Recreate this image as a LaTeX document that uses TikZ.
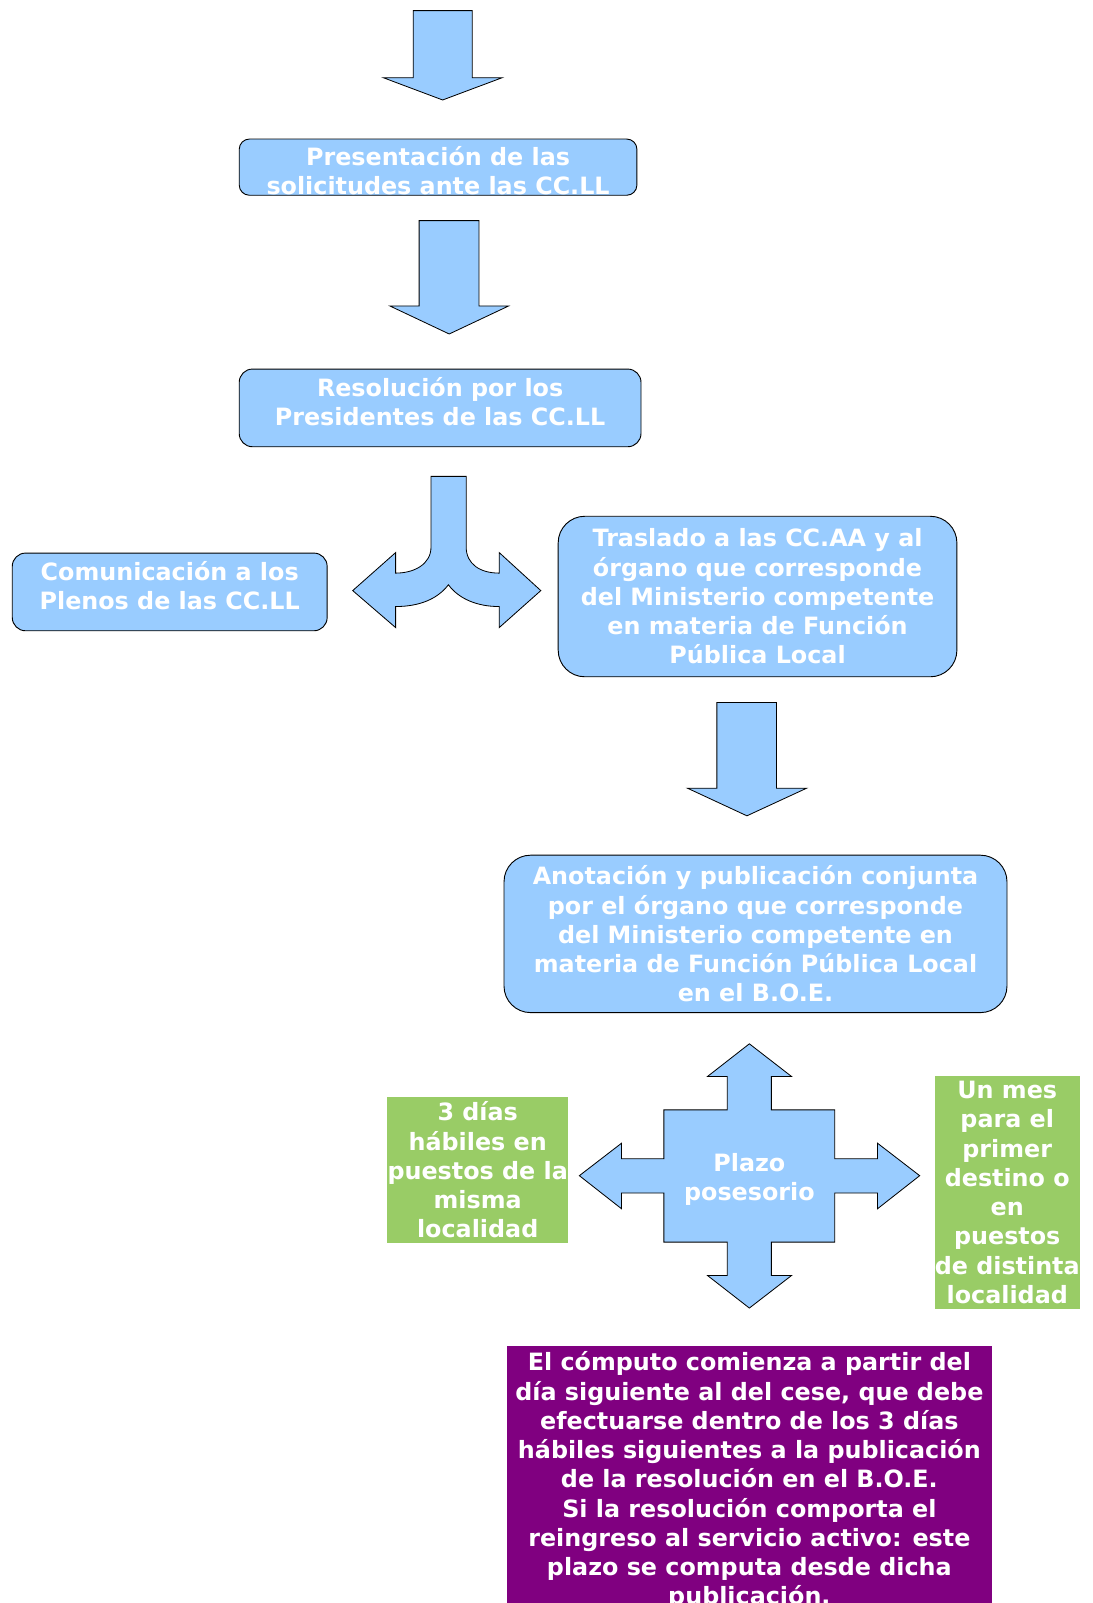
\documentclass[tikz,border=0pt]{standalone}
\usepackage{fontspec}
\setmainfont{DejaVu Sans}
\definecolor{boxblue}{HTML}{99CCFF}
\definecolor{boxgreen}{HTML}{99CC66}
\definecolor{boxpurple}{HTML}{800080}
\newcommand\boxfont{\fontsize{23.3}{28.6}\selectfont\bfseries}
\begin{document}
\begin{tikzpicture}[x=1pt,y=-1pt,
  bluebox/.style={draw=black, line width=0.9pt, fill=boxblue, text=white,
    font=\boxfont, align=center, inner sep=0pt},
  flatbox/.style={fill=#1, text=white, font=\boxfont, align=center, inner sep=0pt},
  arrowshape/.style={draw=black, line width=0.8pt, fill=boxblue, line join=miter},
  plaintext/.style={text=white, font=\boxfont, align=center, inner sep=0pt}]
\useasboundingbox (0,0) rectangle (1069,1568);

% top arrow
\draw[arrowshape] (404.2,10.4) -- (461.9,10.4) -- (461.9,76) -- (491.2,76) -- (433,97.8)
  -- (374.9,76) -- (404.2,76) -- cycle;

\node[bluebox, rounded corners=10pt, minimum width=389pt, minimum height=55pt]
  (pres) at (428.5,163.5) {};
\node[plaintext] (prestext) at (428.5,167) {Presentación de las\\solicitudes ante las CC.LL};

\draw[arrowshape] (410,215.8) -- (468.5,215.8) -- (468.5,299.3) -- (497.5,299.3) -- (439.4,326.7)
  -- (381.4,299.3) -- (410,299.3) -- cycle;

\node[bluebox, rounded corners=13pt, minimum width=393pt, minimum height=76pt]
  (resol) at (430.5,399) {};
\node[plaintext] (resoltext) at (430.5,393) {Resolución por los\\Presidentes de las CC.LL};

% split arrow
\draw[arrowshape] (421.6,466) -- (421.6,535)
  .. controls (421.6,552) and (405,560.6) .. (387,560.6)
  -- (387,540.5) -- (345,577.7) -- (387,613.9) -- (387,593.3)
  .. controls (410,593.3) and (428,586) .. (438.6,572)
  .. controls (449,586) and (467,593.3) .. (488.3,593.3)
  -- (488.3,613.9) -- (529,577.7) -- (488.3,540.5) -- (488.3,560.6)
  .. controls (470,560.6) and (456,552) .. (456,535)
  -- (456,466) -- cycle;

\node[bluebox, rounded corners=13pt, minimum width=308pt, minimum height=76pt]
  (com) at (166,579) {};
\node[plaintext] (comtext) at (166,572.5) {Comunicación a los\\Plenos de las CC.LL};

\node[bluebox, rounded corners=26pt, minimum width=390pt, minimum height=157pt]
  (tras) at (741,583.5) {Traslado a las CC.AA y al\\órgano que corresponde\\del Ministerio competente\\en materia de Función\\Pública Local};

\draw[arrowshape] (701.2,687.2) -- (759.6,687.2) -- (759.6,771) -- (789,771) -- (730.6,798)
  -- (672.5,771) -- (701.2,771) -- cycle;

\node[bluebox, rounded corners=26pt, minimum width=492pt, minimum height=154pt]
  (anot) at (739,913.5) {Anotación y publicación conjunta\\por el órgano que corresponde\\del Ministerio competente en\\materia de Función Pública Local\\en el B.O.E.};

% cross arrow
\draw[arrowshape] (733,1021) -- (774.3,1053) -- (754.5,1053) -- (754.5,1085.6)
  -- (816.5,1085.6) -- (816.5,1133.5) -- (858.3,1133.5) -- (858.3,1118.2)
  -- (899.6,1150) -- (858.3,1182.4) -- (858.3,1167) -- (816.5,1167)
  -- (816.5,1215) -- (754.5,1215) -- (754.5,1247.6) -- (774.3,1247.6)
  -- (733,1279.5) -- (692,1247.6) -- (711.4,1247.6) -- (711.4,1215)
  -- (649.4,1215) -- (649.4,1167) -- (608,1167) -- (608,1182.4)
  -- (566.7,1150) -- (608,1118.2) -- (608,1133.5) -- (649.4,1133.5)
  -- (649.4,1085.6) -- (711.4,1085.6) -- (711.4,1053) -- (692,1053) -- cycle;
\node[plaintext] (plazo) at (733,1154) {Plazo\\posesorio};

\node[flatbox=boxgreen, minimum width=177.5pt, minimum height=142pt]
  (tres) at (467.25,1144.5) {3 días\\hábiles en\\puestos de la\\misma\\localidad};

\node[flatbox=boxgreen, minimum width=141.5pt, minimum height=228.3pt]
  (mes) at (985.25,1166.5) {Un mes\\para el\\primer\\destino o\\en\\puestos\\de distinta\\localidad};

\node[flatbox=boxpurple, minimum width=474pt, minimum height=263pt]
  (computo) at (733,1448.5) {El cómputo comienza a partir del\\día siguiente al del cese, que debe\\efectuarse dentro de los 3 días\\hábiles siguientes a la publicación\\de la resolución en el B.O.E.\\Si la resolución comporta el\\reingreso al servicio activo: este\\plazo se computa desde dicha\\publicación.};
\end{tikzpicture}
\end{document}
